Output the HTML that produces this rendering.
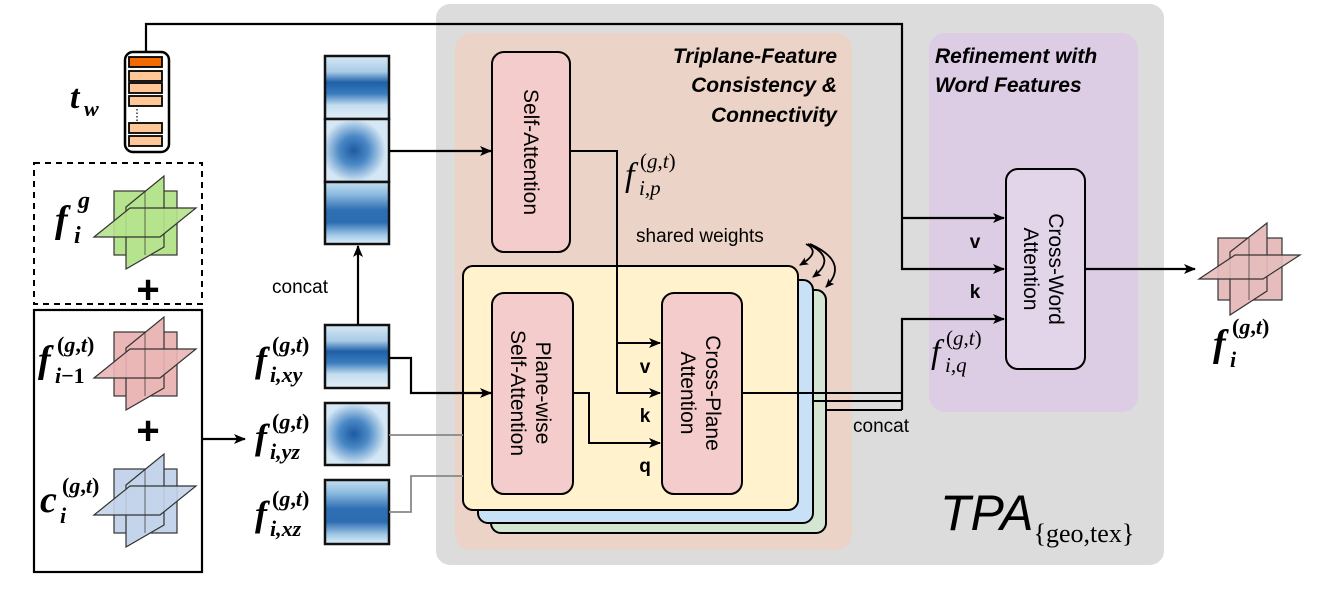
<!DOCTYPE html>
<html><head><meta charset="utf-8"><style>
html,body{margin:0;padding:0;background:#fff;}
svg{display:block;}
.m{font-family:"Liberation Serif",serif;font-style:italic;}
.s{font-family:"Liberation Sans",sans-serif;}
.n{font-style:normal;}
</style></head><body>
<svg width="1329" height="592" viewBox="0 0 1329 592" xmlns="http://www.w3.org/2000/svg">
<defs>
<marker id="ah" markerWidth="12" markerHeight="10" refX="11" refY="5" orient="auto" markerUnits="userSpaceOnUse">
<path d="M0,0 L12,5 L0,10 L3,5 Z" fill="#000"/></marker>
<marker id="ahs" markerWidth="9" markerHeight="8" refX="8" refY="4" orient="auto" markerUnits="userSpaceOnUse">
<path d="M0,0 L9,4 L0,8 L2,4 Z" fill="#000"/></marker>
<linearGradient id="ga" x1="0" y1="0" x2="0" y2="1">
<stop offset="0" stop-color="#d6e8f5"/><stop offset="0.25" stop-color="#a8cbe6"/><stop offset="0.42" stop-color="#1f5fa6"/><stop offset="0.6" stop-color="#3a7dbd"/><stop offset="0.78" stop-color="#c3dcef"/><stop offset="1" stop-color="#e3eff8"/></linearGradient>
<linearGradient id="gc" x1="0" y1="0" x2="0" y2="1">
<stop offset="0" stop-color="#c5def0"/><stop offset="0.2" stop-color="#8cbbe0"/><stop offset="0.45" stop-color="#2f6fb3"/><stop offset="0.65" stop-color="#2c6cb2"/><stop offset="0.85" stop-color="#9fc7e6"/><stop offset="1" stop-color="#e0eef8"/></linearGradient>
<radialGradient id="gb" cx="0.45" cy="0.5" r="0.5">
<stop offset="0" stop-color="#1c5aa3"/><stop offset="0.45" stop-color="#4a88c5"/><stop offset="1" stop-color="#d5e7f4"/></radialGradient>
</defs>

<rect x="436" y="4" width="728" height="561" rx="14" fill="#dcdcdc"/>
<rect x="455" y="33" width="397" height="517" rx="16" fill="#ecd3c7"/>
<rect x="929" y="33" width="209" height="379" rx="16" fill="#dccde5"/>

<g class="s" font-weight="bold" font-style="italic" font-size="21" text-anchor="end">
<text x="837" y="63">Triplane-Feature</text>
<text x="837" y="92">Consistency &amp;</text>
<text x="837" y="122">Connectivity</text>
</g>
<g class="s" font-weight="bold" font-style="italic" font-size="21">
<text x="935" y="63">Refinement with</text>
<text x="935" y="92">Word Features</text>
</g>

<polyline points="146,52 146,24 902,24 902,269 1004,269" fill="none" stroke="#000" stroke-width="2.2" marker-end="url(#ah)"/>
<line x1="902" y1="218" x2="1004" y2="218" stroke="#000" stroke-width="2.2" marker-end="url(#ah)"/>
<polyline points="902,410 902,319 1004,319" fill="none" stroke="#000" stroke-width="2.2" marker-end="url(#ah)"/>

<rect x="125" y="52" width="44" height="100" rx="8" fill="#fff" stroke="#000" stroke-width="2.5"/>
<rect x="129" y="57" width="33" height="10" fill="#f26a00" stroke="#000" stroke-width="1.8"/>
<rect x="129" y="71" width="33" height="10" fill="#ffc797" stroke="#000" stroke-width="1.8"/>
<rect x="129" y="83" width="33" height="10" fill="#ffc797" stroke="#000" stroke-width="1.8"/>
<rect x="129" y="96" width="33" height="10" fill="#ffc797" stroke="#000" stroke-width="1.8"/>
<line x1="137" y1="109" x2="137" y2="121" stroke="#000" stroke-width="1.2" stroke-dasharray="1.5,2"/>
<rect x="129" y="123" width="33" height="10" fill="#ffc797" stroke="#000" stroke-width="1.8"/>
<rect x="129" y="136" width="33" height="10" fill="#ffc797" stroke="#000" stroke-width="1.8"/>
<text class="m" x="70" y="108" font-size="34" font-weight="bold">t<tspan font-size="22" x="84" y="116">w</tspan></text>

<rect x="34" y="163" width="168" height="141" fill="none" stroke="#000" stroke-width="2" stroke-dasharray="6,5"/>
<rect x="34" y="310" width="168" height="262" fill="none" stroke="#000" stroke-width="2.2"/>
<text class="s" x="148" y="303" font-size="40" text-anchor="middle" font-weight="bold">+</text>
<text class="s" x="148" y="444" font-size="40" text-anchor="middle" font-weight="bold">+</text>

<g transform="translate(94,176)" stroke="#333" stroke-width="1.2" fill="#b6e38d">
<rect x="20" y="15" width="63" height="64"/>
<polygon points="32,31 70,0 70,71 32,93"/>
<polygon points="0,61 36,32 102,32 66,61" fill-opacity="0.9"/>
<line x1="51" y1="15" x2="51" y2="79" stroke-opacity="0.6"/>
</g>
<g transform="translate(94,317)" stroke="#333" stroke-width="1.2" fill="#eab6b6">
<rect x="20" y="15" width="63" height="64"/>
<polygon points="32,31 70,0 70,71 32,93"/>
<polygon points="0,61 36,32 102,32 66,61" fill-opacity="0.9"/>
<line x1="51" y1="15" x2="51" y2="79" stroke-opacity="0.6"/>
</g>
<g transform="translate(94,454)" stroke="#333" stroke-width="1.2" fill="#c4d4ea">
<rect x="20" y="15" width="63" height="64"/>
<polygon points="32,31 70,0 70,71 32,93"/>
<polygon points="0,61 36,32 102,32 66,61" fill-opacity="0.9"/>
<line x1="51" y1="15" x2="51" y2="79" stroke-opacity="0.6"/>
</g>
<g transform="translate(1199,223)" stroke="#333" stroke-width="1.2" fill="#e6bcbc">
<rect x="19" y="15" width="64" height="62"/>
<polygon points="31,29 68,0 68,68 31,92"/>
<polygon points="0,56 36,32 101,32 64,56" fill-opacity="0.9"/>
<line x1="50" y1="15" x2="50" y2="77" stroke-opacity="0.6"/>
</g>

<!-- left labels -->
<text class="m" x="55" y="232" font-size="38" font-weight="bold">f<tspan font-size="24" x="78" y="208">g</tspan><tspan font-size="24" x="74" y="243">i</tspan></text>
<text class="m" x="38" y="372" font-size="38" font-weight="bold">f<tspan font-size="22" x="57" y="352" class="n">(</tspan><tspan font-size="22">g</tspan><tspan font-size="22" class="n">,</tspan><tspan font-size="22">t</tspan><tspan font-size="22" class="n">)</tspan><tspan font-size="22" x="55" y="383">i</tspan><tspan font-size="22" class="n">−1</tspan></text>
<text class="m" x="40" y="512" font-size="38" font-weight="bold">c<tspan font-size="22" x="62" y="493" class="n">(</tspan><tspan font-size="22">g</tspan><tspan font-size="22" class="n">,</tspan><tspan font-size="22">t</tspan><tspan font-size="22" class="n">)</tspan><tspan font-size="22" x="60" y="523">i</tspan></text>

<line x1="202" y1="439" x2="245" y2="439" stroke="#000" stroke-width="2.2" marker-end="url(#ah)"/>

<g class="m" font-size="36" font-weight="bold">
<text x="255" y="372">f<tspan font-size="22" x="272" y="352" class="n">(</tspan><tspan font-size="22">g</tspan><tspan font-size="22" class="n">,</tspan><tspan font-size="22">t</tspan><tspan font-size="22" class="n">)</tspan><tspan font-size="22" x="270" y="382">i,xy</tspan></text>
<text x="255" y="449">f<tspan font-size="22" x="272" y="429" class="n">(</tspan><tspan font-size="22">g</tspan><tspan font-size="22" class="n">,</tspan><tspan font-size="22">t</tspan><tspan font-size="22" class="n">)</tspan><tspan font-size="22" x="270" y="459">i,yz</tspan></text>
<text x="255" y="526">f<tspan font-size="22" x="272" y="506" class="n">(</tspan><tspan font-size="22">g</tspan><tspan font-size="22" class="n">,</tspan><tspan font-size="22">t</tspan><tspan font-size="22" class="n">)</tspan><tspan font-size="22" x="270" y="536">i,xz</tspan></text>
</g>

<g stroke="#111" stroke-width="2.5">
<rect x="325" y="56" width="64" height="63" fill="url(#ga)"/>
<rect x="325" y="119" width="64" height="63" fill="url(#gb)"/>
<rect x="325" y="182" width="64" height="62" fill="url(#gc)"/>
<rect x="325" y="325" width="64" height="63" fill="url(#ga)"/>
<rect x="325" y="403" width="64" height="62" fill="url(#gb)"/>
<rect x="325" y="480" width="64" height="64" fill="url(#gc)"/>
</g>
<line x1="358" y1="325" x2="358" y2="246" stroke="#000" stroke-width="2.2" marker-end="url(#ah)"/>
<text class="s" x="272" y="293" font-size="19">concat</text>

<line x1="389" y1="151" x2="491" y2="151" stroke="#000" stroke-width="2.2" marker-end="url(#ah)"/>
<polyline points="570,151 617,151 617,266" fill="none" stroke="#000" stroke-width="2"/>

<rect x="491" y="290" width="335" height="243" rx="10" fill="#d4e6d2" stroke="#000" stroke-width="2"/>
<rect x="478" y="280" width="335" height="243" rx="10" fill="#c9e1f7" stroke="#000" stroke-width="2"/>
<rect x="463" y="266" width="335" height="244" rx="10" fill="#fff2cc" stroke="#000" stroke-width="2"/>
<polyline points="742,393 902,393" fill="none" stroke="#000" stroke-width="2"/>
<line x1="813" y1="401" x2="902" y2="401" stroke="#000" stroke-width="2"/>
<line x1="826" y1="410" x2="902" y2="410" stroke="#000" stroke-width="2"/>
<text class="s" x="853" y="432" font-size="19">concat</text>

<polyline points="389,358 411,358 411,393 491,393" fill="none" stroke="#000" stroke-width="2.2" marker-end="url(#ah)"/>
<line x1="389" y1="435" x2="463" y2="435" stroke="#888" stroke-width="1.8"/>
<polyline points="389,512 411,512 411,476 463,476" fill="none" stroke="#888" stroke-width="1.8"/>
<polyline points="617,266 617,393 660,393" fill="none" stroke="#000" stroke-width="2" marker-end="url(#ah)"/>
<line x1="617" y1="343" x2="660" y2="343" stroke="#000" stroke-width="2" marker-end="url(#ah)"/>
<polyline points="573,393 589,393 589,443 660,443" fill="none" stroke="#000" stroke-width="2" marker-end="url(#ah)"/>
<g class="s" font-weight="bold" font-size="19" text-anchor="middle">
<text x="645" y="373">v</text><text x="645" y="422">k</text><text x="645" y="472">q</text>
<text x="975" y="248">v</text><text x="975" y="298">k</text>
</g>

<rect x="492" y="52" width="78" height="200" rx="12" fill="#f5cccc" stroke="#000" stroke-width="2"/>
<text class="s" font-size="21" text-anchor="middle" transform="translate(531,152) rotate(90)" dy="7">Self-Attention</text>
<rect x="492" y="293" width="81" height="201" rx="12" fill="#f5cccc" stroke="#000" stroke-width="2"/>
<text class="s" font-size="21" text-anchor="middle" transform="translate(532,393) rotate(90)"><tspan x="0" dy="-4">Plane-wise</tspan><tspan x="0" dy="25">Self-Attention</tspan></text>
<rect x="662" y="293" width="80" height="201" rx="12" fill="#f5cccc" stroke="#000" stroke-width="2"/>
<text class="s" font-size="21" text-anchor="middle" transform="translate(702,393) rotate(90)"><tspan x="0" dy="-4">Cross-Plane</tspan><tspan x="0" dy="25">Attention</tspan></text>
<rect x="1006" y="169" width="79" height="200" rx="12" fill="#e2d5ea" stroke="#000" stroke-width="2"/>
<text class="s" font-size="21" text-anchor="middle" transform="translate(1045,269) rotate(90)"><tspan x="0" dy="-4">Cross-Word</tspan><tspan x="0" dy="25">Attention</tspan></text>
<line x1="1085" y1="269" x2="1195" y2="269" stroke="#000" stroke-width="2.2" marker-end="url(#ah)"/>

<text class="s" x="636" y="242" font-size="19">shared weights</text>
<path d="M806,244 Q822,252 800,265" fill="none" stroke="#000" stroke-width="1.8" marker-end="url(#ahs)"/>
<path d="M808,244 Q838,258 813,277" fill="none" stroke="#000" stroke-width="1.8" marker-end="url(#ahs)"/>
<path d="M810,244 Q850,262 826,287" fill="none" stroke="#000" stroke-width="1.8" marker-end="url(#ahs)"/>

<text class="m" x="625" y="186" font-size="34">f<tspan font-size="21" x="640" y="168" class="n">(</tspan><tspan font-size="21">g</tspan><tspan font-size="21" class="n">,</tspan><tspan font-size="21">t</tspan><tspan font-size="21" class="n">)</tspan><tspan font-size="21" x="639" y="195">i,p</tspan></text>
<text class="m" x="931" y="363" font-size="34">f<tspan font-size="21" x="946" y="345" class="n">(</tspan><tspan font-size="21">g</tspan><tspan font-size="21" class="n">,</tspan><tspan font-size="21">t</tspan><tspan font-size="21" class="n">)</tspan><tspan font-size="21" x="945" y="372">i,q</tspan></text>
<text class="m" x="1213" y="356" font-size="38" font-weight="bold">f<tspan font-size="22" x="1232" y="334" class="n">(</tspan><tspan font-size="22">g</tspan><tspan font-size="22" class="n">,</tspan><tspan font-size="22">t</tspan><tspan font-size="22" class="n">)</tspan><tspan font-size="22" x="1230" y="367">i</tspan></text>

<text x="940" y="530" font-family="Liberation Sans,sans-serif" font-style="italic" font-size="50">TPA<tspan font-family="Liberation Serif,serif" font-style="normal" font-size="26" dy="12">{geo,tex}</tspan></text>
</svg>
</body></html>
